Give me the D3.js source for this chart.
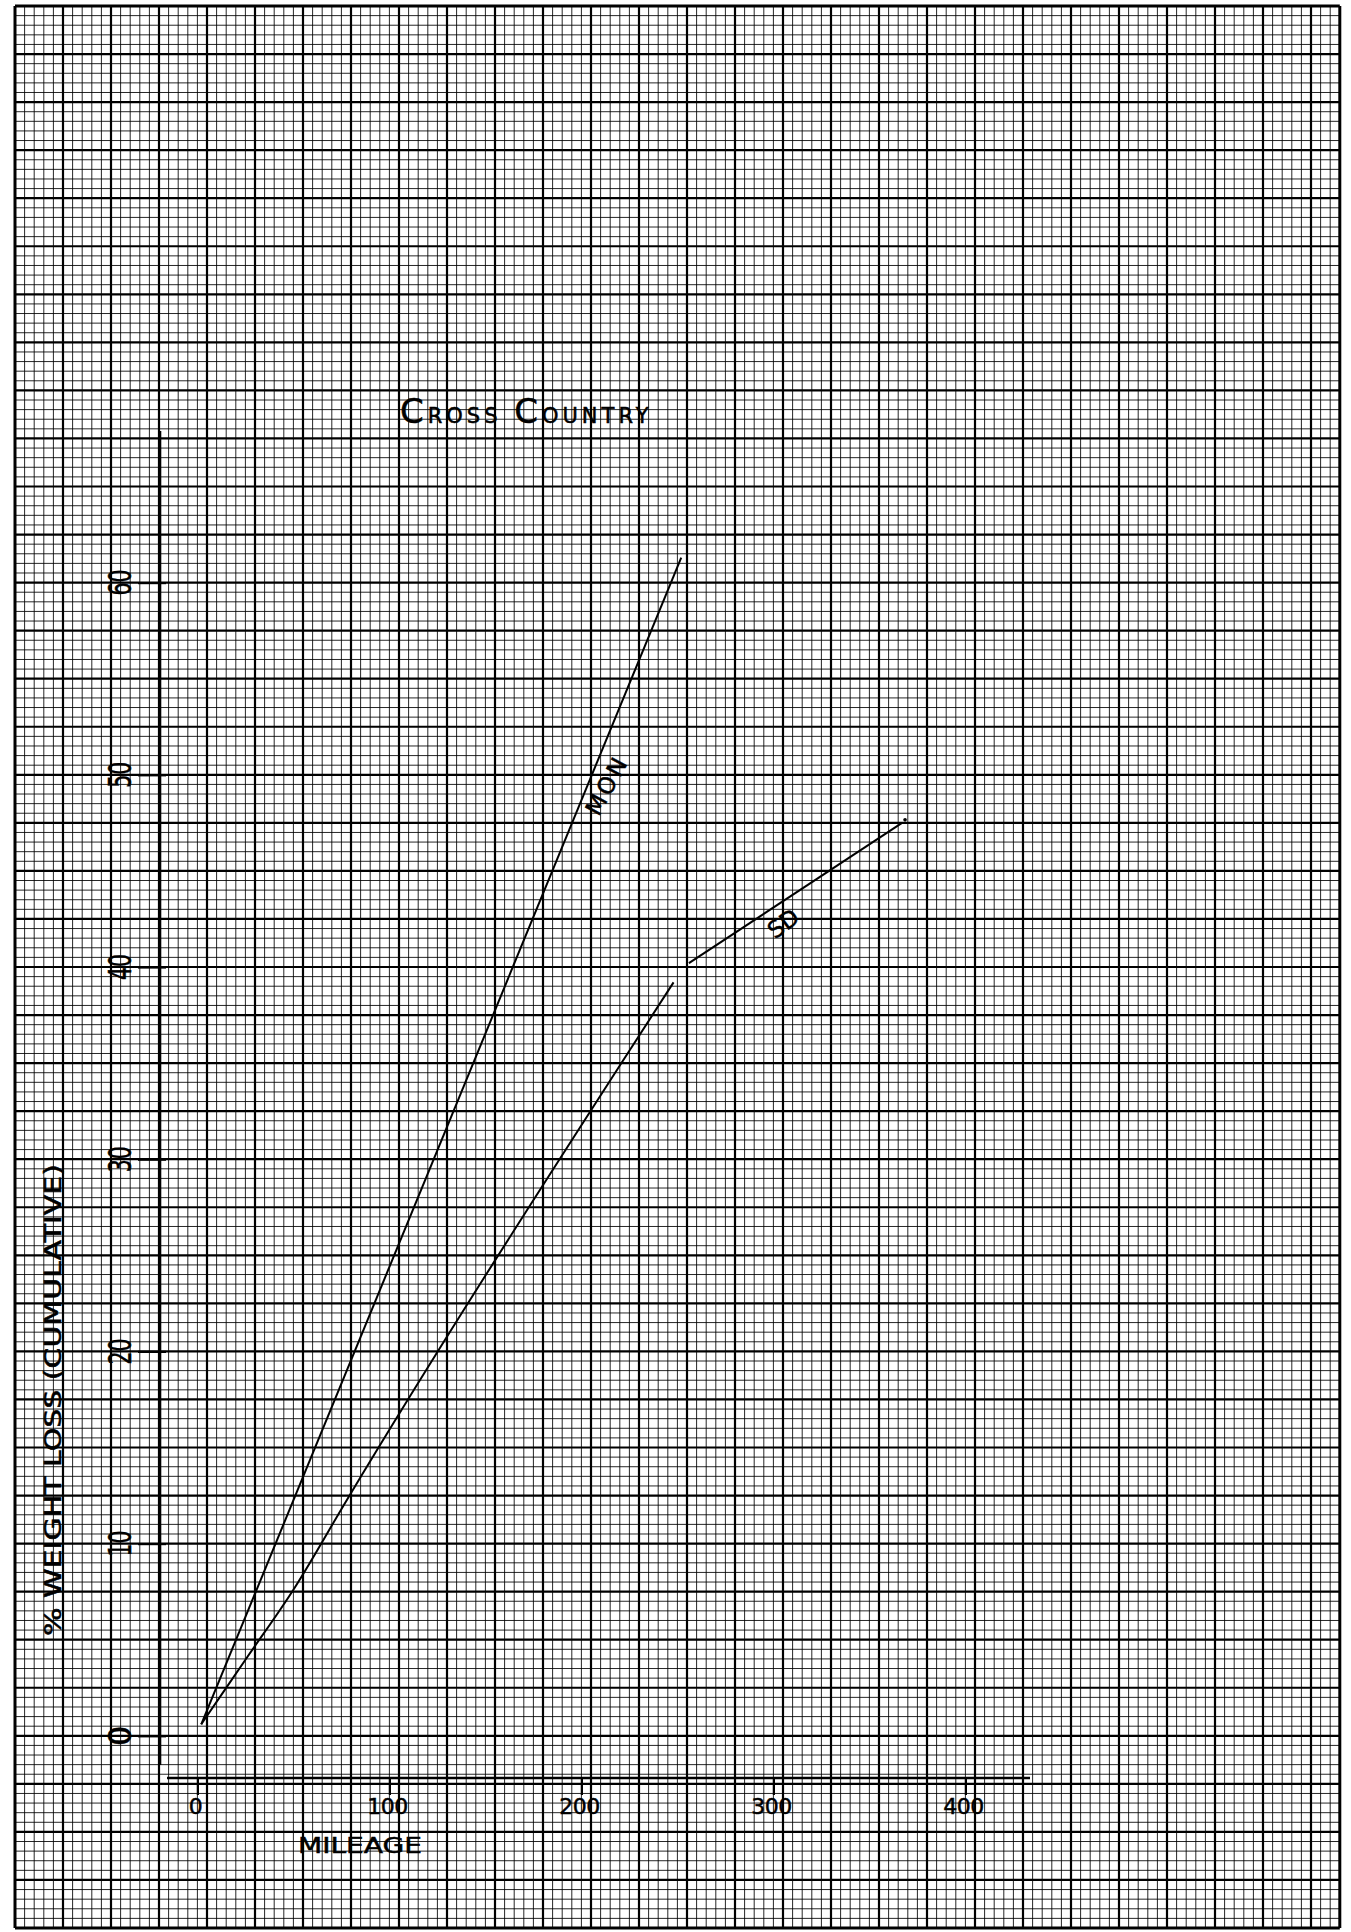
<!DOCTYPE html>
<html>
<head>
<meta charset="utf-8">
<script src="https://cdn.jsdelivr.net/npm/d3@7"></script>
<style>
  html, body { margin: 0; padding: 0; background: #fff; }
  svg { display: block; }
  text { font-family: "DejaVu Sans", sans-serif; fill: #000; stroke: #000; stroke-width: 0.5; }
</style>
</head>
<body>
<svg id="chart" width="1351" height="1932"></svg>
<script>
// Cumulative weight loss (%) against mileage, cross-country run.
const mileTicks = [0, 100, 200, 300, 400];
const pctTicks = [0, 10, 20, 30, 40, 50, 60];

// MON: a single straight run from the start
const monMiles = [2, 252];
const monPct = [0.6, 61.3];

// SD: two legs, the second picked up just after 250 miles
const sdMiles = [2, 26, 50, 78, 226, 248, 256, 367];
const sdPct = [0.6, 4.1, 7.6, 12.3, 35.8, 39.2, 40.2, 47.5];
const sdLeg = [1, 1, 1, 1, 1, 1, 2, 2];

const W = 1351, H = 1932;
const svg = d3.select("#chart");

// ---- graph paper ----
const gx0 = 15, gy0 = 6, cellX = 9.6, cellY = 9.61, nCols = 138, nRows = 200;
svg.append("rect").attr("width", W).attr("height", H).attr("fill", "#fff");

const paper = svg.append("g").attr("class", "paper");
const lineW = (i, n) => (i === 0 || i === n) ? 3 : (i % 5 === 0 ? 2.2 : 1);
const lineO = (i, n) => (i === 0 || i === n || i % 5 === 0) ? 1 : 0.85;

paper.selectAll("line.v").data(d3.range(nCols + 1)).join("line")
  .attr("class", "v")
  .attr("x1", i => gx0 + i * cellX).attr("x2", i => gx0 + i * cellX)
  .attr("y1", gy0).attr("y2", gy0 + nRows * cellY)
  .attr("stroke", "#000")
  .attr("stroke-width", i => lineW(i, nCols))
  .attr("stroke-opacity", i => lineO(i, nCols));

paper.selectAll("line.h").data(d3.range(nRows + 1)).join("line")
  .attr("class", "h")
  .attr("y1", j => gy0 + j * cellY).attr("y2", j => gy0 + j * cellY)
  .attr("x1", gx0).attr("x2", gx0 + nCols * cellX)
  .attr("stroke", "#000")
  .attr("stroke-width", j => lineW(j, nRows))
  .attr("stroke-opacity", j => lineO(j, nRows));

// ---- scales ----
const x = d3.scaleLinear().domain([0, 400]).range([gx0 + 19 * cellX, gx0 + 99 * cellX]);
const y = d3.scaleLinear().domain([0, 60]).range([gy0 + 180 * cellY, gy0 + 60 * cellY]);

// ---- axes ----
const yAxisX = 160, xAxisY = 1778;
svg.append("line")
  .attr("x1", yAxisX).attr("x2", yAxisX).attr("y1", 431).attr("y2", 1765)
  .attr("stroke", "#000").attr("stroke-width", 2.6);
svg.append("line")
  .attr("x1", 167).attr("x2", 1030).attr("y1", xAxisY).attr("y2", xAxisY)
  .attr("stroke", "#000").attr("stroke-width", 2.4);

const yAxis = svg.append("g")
  .attr("transform", `translate(${yAxisX + 6},0)`)
  .call(d3.axisLeft(y).tickValues(pctTicks).tickSize(28).tickFormat(""));
yAxis.select(".domain").remove();
yAxis.selectAll(".tick line").attr("stroke", "#000").attr("stroke-width", 2.2);

const xAxis = svg.append("g")
  .attr("transform", `translate(0,${xAxisY})`)
  .call(d3.axisBottom(x).tickValues(mileTicks).tickSize(17).tickFormat(""));
xAxis.select(".domain").remove();
xAxis.selectAll(".tick line").attr("stroke", "#000").attr("stroke-width", 2.2);

// y tick labels, lettered sideways
svg.selectAll("text.ytl").data(pctTicks).join("text")
  .attr("class", "ytl")
  .attr("transform", d => `translate(131,${y(d)}) rotate(-90)`)
  .attr("text-anchor", "middle")
  .attr("font-size", 32)
  .attr("textLength", d => String(d).length > 1 ? 26 : null)
  .attr("lengthAdjust", "spacingAndGlyphs")
  .text(d => d);

// x tick labels
svg.selectAll("text.xtl").data(mileTicks).join("text")
  .attr("class", "xtl")
  .attr("x", d => x(d) - 2).attr("y", 1814)
  .attr("text-anchor", "middle")
  .attr("font-size", 22)
  .attr("letter-spacing", -0.5)
  .text(d => d);

// axis titles
svg.append("text")
  .attr("x", 360).attr("y", 1853)
  .attr("text-anchor", "middle")
  .attr("font-size", 22)
  .attr("textLength", 124).attr("lengthAdjust", "spacingAndGlyphs")
  .text("MILEAGE");

svg.append("text")
  .attr("transform", "translate(61,1400) rotate(-90)")
  .attr("text-anchor", "middle")
  .attr("font-size", 23)
  .attr("textLength", 472).attr("lengthAdjust", "spacingAndGlyphs")
  .text("% WEIGHT LOSS (CUMULATIVE)");

// chart title in small caps
const title = svg.append("text")
  .attr("x", 400).attr("y", 423)
  .attr("letter-spacing", 4);
title.append("tspan").attr("font-size", 34).text("C");
title.append("tspan").attr("font-size", 21).text("ROSS ");
title.append("tspan").attr("font-size", 34).attr("dx", 2).text("C");
title.append("tspan").attr("font-size", 21).text("OUNTRY");

// ---- data lines ----
const line = d3.line().x(d => x(d[0])).y(d => y(d[1]));
const smooth = d3.line().x(d => x(d[0])).y(d => y(d[1])).curve(d3.curveMonotoneX);

const monPts = monMiles.map((m, i) => [m, monPct[i]]);
svg.append("path")
  .attr("d", line(monPts))
  .attr("fill", "none").attr("stroke", "#000").attr("stroke-width", 2);

const sdPts = sdMiles.map((m, i) => ({ leg: sdLeg[i], p: [m, sdPct[i]] }));
const legs = d3.groups(sdPts, d => d.leg);
svg.selectAll("path.sd").data(legs).join("path")
  .attr("class", "sd")
  .attr("d", ([, pts]) => smooth(pts.map(d => d.p)))
  .attr("fill", "none").attr("stroke", "#000").attr("stroke-width", 2);

// end mark of the SD run
const sdLast = sdPts[sdPts.length - 1].p;
svg.append("circle")
  .attr("cx", x(sdLast[0]) + 3).attr("cy", y(sdLast[1]) - 3).attr("r", 1.8)
  .attr("fill", "#000");

// series labels along their lines
const monEnd = monPts[monPts.length - 1];
const monAngle = Math.atan2(y(monEnd[1]) - y(monPts[0][1]), x(monEnd[0]) - x(monPts[0][0])) * 180 / Math.PI;
svg.append("text")
  .attr("transform", `translate(614,789) rotate(${monAngle + 6})`)
  .attr("text-anchor", "middle")
  .attr("font-size", 23)
  .attr("letter-spacing", 3)
  .text("MON");

const sdA = sdPts[sdPts.length - 2].p;
const sdAngle = Math.atan2(y(sdLast[1]) - y(sdA[1]), x(sdLast[0]) - x(sdA[0])) * 180 / Math.PI;
svg.append("text")
  .attr("transform", `translate(788,930) rotate(${sdAngle - 3})`)
  .attr("text-anchor", "middle")
  .attr("font-size", 23)
  .text("SD");
</script>
</body>
</html>
